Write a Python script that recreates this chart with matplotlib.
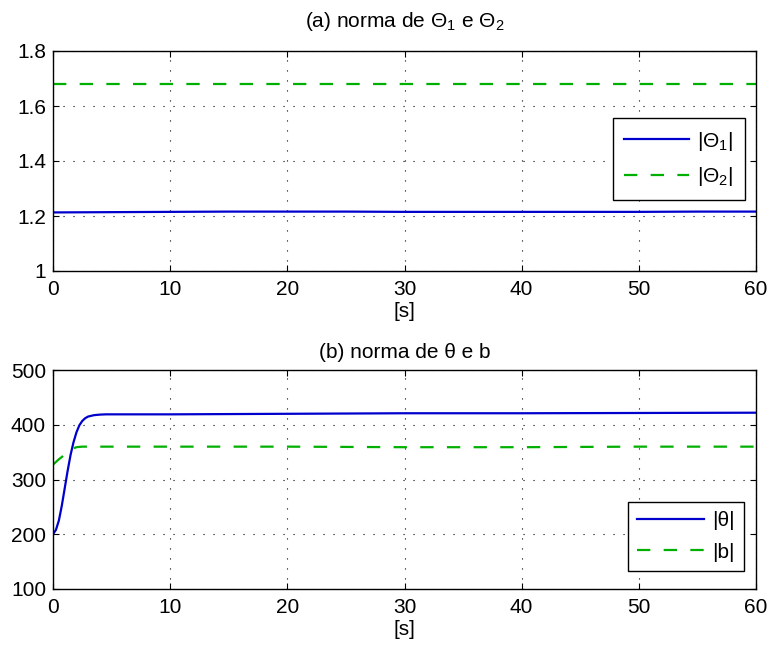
import matplotlib
matplotlib.use("Agg")
import matplotlib.pyplot as plt
import numpy as np

plt.rcParams['font.family'] = ['Liberation Sans', 'DejaVu Sans']
plt.rcParams['mathtext.fontset'] = 'custom'
plt.rcParams['mathtext.rm'] = 'Liberation Sans'
plt.rcParams['mathtext.it'] = 'Liberation Sans'
plt.rcParams['mathtext.sf'] = 'Liberation Sans'

# ---- data ----
t_top = [0, 5, 10, 15, 20, 25, 30, 35, 40, 45, 50, 55, 60]
theta1_norm = [1.213, 1.214, 1.215, 1.216, 1.216, 1.216, 1.215, 1.215, 1.215, 1.215, 1.215, 1.216, 1.216]
theta2_norm = [1.68, 1.68, 1.68, 1.68, 1.68, 1.68, 1.68, 1.68, 1.68, 1.68, 1.68, 1.68, 1.68]

t_theta = [0, 0.25, 0.5, 0.75, 1.0, 1.25, 1.5, 1.75, 2.0, 2.25, 2.5, 2.75, 3.0, 3.5, 4.0, 4.5, 5, 10, 20, 30, 40, 50, 60]
theta_norm = [200, 208, 225, 252, 284, 316, 345, 368, 386, 399, 407, 412, 415, 417.5, 418.5, 419, 419, 419, 420, 421, 421, 421.5, 422]
t_b = [0, 0.25, 0.5, 0.75, 1.0, 1.25, 1.5, 1.75, 2.0, 2.5, 3, 5, 10, 20, 30, 40, 50, 60]
b_norm = [327, 332, 337, 341, 346, 350, 354, 357, 359, 360, 360, 360, 360, 360, 359, 359, 360, 360]

x_ticks = [0, 10, 20, 30, 40, 50, 60]
y_ticks_top = [1, 1.2, 1.4, 1.6, 1.8]
y_tick_labels_top = ['1', '1.2', '1.4', '1.6', '1.8']
y_ticks_bot = [100, 200, 300, 400, 500]

blue = '#0000cc'
green = '#00b000'
fs = 15

fig = plt.figure(figsize=(7.71, 6.51), dpi=100)
W, H = 771, 651
def rect(l, r, top, bot):
    return [l / W, 1 - bot / H, (r - l) / W, (bot - top) / H]

ax1 = fig.add_axes(rect(53, 756, 51, 271))
ax2 = fig.add_axes(rect(53, 756, 370, 589))

def style(ax):
    ax.grid(True, color='black', linestyle=(0, (1, 8)), linewidth=0.8)
    ax.tick_params(direction='in', top=True, right=True, labelsize=fs, length=4.5, width=0.8)
    ax.tick_params(axis='x', pad=6.5)
    ax.tick_params(axis='y', pad=5)
    for s in ax.spines.values():
        s.set_linewidth(1.0)
    ax.set_xlim(0, 60)
    ax.set_xticks(x_ticks)
    ax.set_xlabel('[s]', fontsize=fs, labelpad=2)

ax1.plot(t_top, theta1_norm, color=blue, lw=1.6, label=r'|$\Theta_1$|')
ax1.plot(t_top, theta2_norm, color=green, lw=1.6, dashes=[6, 6], label=r'|$\Theta_2$|')
style(ax1)
ax1.set_ylim(1, 1.8)
ax1.set_yticks(y_ticks_top)
ax1.set_yticklabels(y_tick_labels_top)
ax1.set_title(r'(a) norma de $\Theta_1$ e $\Theta_2$', fontsize=fs, pad=17.5)
leg1 = ax1.legend(loc='upper right', bbox_to_anchor=(0.984, 0.695), borderaxespad=0,
                  fontsize=fs, fancybox=False, framealpha=1, edgecolor='black',
                  handlelength=3.1, handletextpad=0.4, labelspacing=0.62, borderpad=0.55)
leg1.get_frame().set_linewidth(1.0)

ax2.plot(t_theta, theta_norm, color=blue, lw=1.6, label='|θ|')
ax2.plot(t_b, b_norm, color=green, lw=1.6, dashes=[6, 6], label='|b|')
style(ax2)
ax2.set_ylim(100, 500)
ax2.set_yticks(y_ticks_bot)
ax2.set_title('(b) norma de θ e b', fontsize=fs, pad=8.5)
leg2 = ax2.legend(loc='lower right', bbox_to_anchor=(0.983, 0.082), borderaxespad=0,
                  fontsize=fs, fancybox=False, framealpha=1, edgecolor='black',
                  handlelength=3.2, handletextpad=0.4, labelspacing=0.6, borderpad=0.45)
leg2.get_frame().set_linewidth(1.0)

fig.savefig('out.png', dpi=100)
